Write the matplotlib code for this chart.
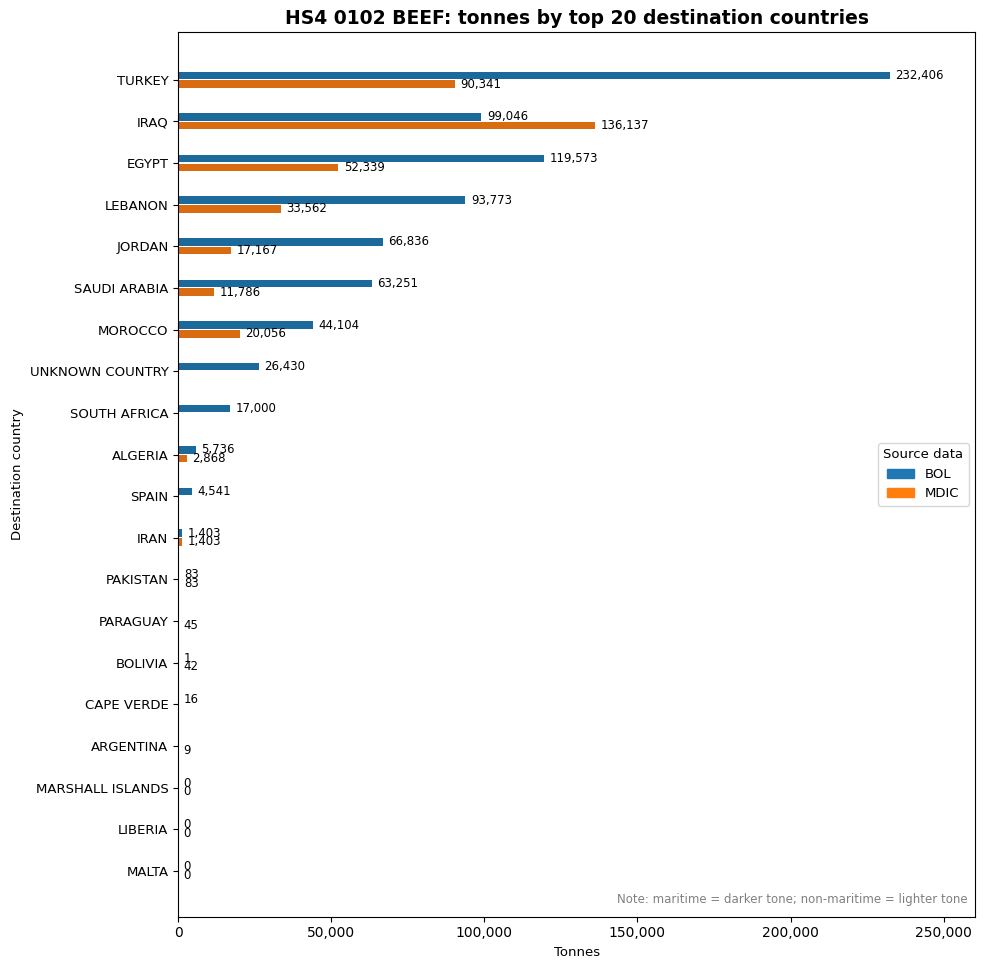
import numpy as np
import matplotlib
matplotlib.use("Agg")
import matplotlib.pyplot as plt
from matplotlib.patches import Patch

# ── Data ─────────────────────────────────────────────────────────────────────

COUNTRIES = [
    "TURKEY", "IRAQ", "EGYPT", "LEBANON", "JORDAN", "SAUDI ARABIA",
    "MOROCCO", "UNKNOWN COUNTRY", "SOUTH AFRICA", "ALGERIA", "SPAIN",
    "IRAN", "PAKISTAN", "PARAGUAY", "BOLIVIA", "CAPE VERDE", "ARGENTINA",
    "MARSHALL ISLANDS", "LIBERIA", "MALTA",
]

NAN = np.nan
BOL_TONNES = [232406, 99046, 119573, 93773, 66836, 63251, 44104, 26430,
              17000, 5736, 4541, 1403, 83, NAN, 1, 16, NAN, 0, 0, 0]
MDIC_TONNES = [90341, 136137, 52339, 33562, 17167, 11786, 20056, NAN,
               NAN, 2868, NAN, 1403, 83, 45, 42, NAN, 9, 0, 0, 0]

SERIES = [
    ("BOL", BOL_TONNES, "#1c699b", "#1f77b4", -0.11),
    ("MDIC", MDIC_TONNES, "#d96c10", "#ff7f0e", 0.10),
]

BAR_H = 0.18

# ── Plot ─────────────────────────────────────────────────────────────────────

fig = plt.figure(figsize=(9.84, 9.69), dpi=100)
ax = fig.add_axes([0.181, 0.054, 0.810, 0.913])

y = np.arange(len(COUNTRIES))
for name, values, dark, _, off in SERIES:
    vals = np.array(values, dtype=float)
    keep = ~np.isnan(vals)
    bars = ax.barh(y[keep] + off, vals[keep], height=BAR_H, color=dark)
    ax.bar_label(bars, labels=[f"{v:,.0f}" for v in vals[keep]],
                 padding=4, fontsize=8.5)

ax.set_yticks(y)
ax.set_yticklabels(COUNTRIES)
ax.tick_params(axis="y", labelsize=9.5)
ax.set_ylim(20.1, -1.15)

xmax = np.nanmax(BOL_TONNES + MDIC_TONNES)
ax.set_xlim(0, xmax * 1.12)
ax.xaxis.set_major_formatter(matplotlib.ticker.FuncFormatter(lambda v, _: f"{v:,.0f}"))

ax.set_xlabel("Tonnes", fontsize=9.5)
ax.set_ylabel("Destination country", fontsize=9.5)
ax.set_title("HS4 0102 BEEF: tonnes by top 20 destination countries",
             fontsize=13.5, fontweight="bold")

handles = [Patch(color=light, label=name) for name, _, _, light, _ in SERIES]
ax.legend(handles=handles, title="Source data", loc="center right",
          fontsize=9.5, title_fontsize=9.5)

ax.text(0.99, 0.012, "Note: maritime = darker tone; non-maritime = lighter tone",
        transform=ax.transAxes, ha="right", va="bottom", fontsize=8.5,
        color="gray")

fig.savefig("out.png", dpi=100)
